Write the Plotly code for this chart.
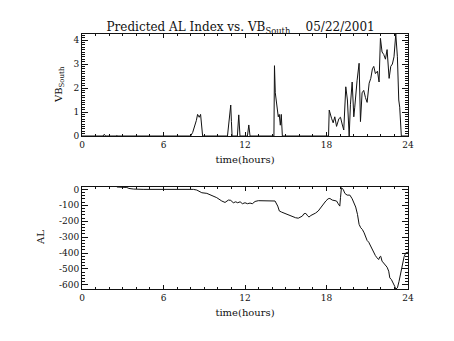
import plotly.graph_objects as go

# Southward IMF component (VB_South) – time in hours, value
vb_hours = [0.0, 1.55, 1.64, 1.73, 2.50, 2.57, 2.64,
            8.00, 8.15, 8.30, 8.42, 8.51, 8.63, 8.73, 8.88,
            10.71, 10.81, 10.88, 10.95, 11.00, 11.05,
            11.44, 11.54, 11.63,
            12.18, 12.28, 12.37,
            14.13, 14.17, 14.23, 14.30, 14.38, 14.45, 14.52, 14.60, 14.67, 14.75,
            18.15, 18.20, 18.37, 18.49, 18.61, 18.74, 18.91, 19.03, 19.15, 19.27,
            19.42, 19.54, 19.67, 19.76, 19.89, 20.01, 20.08, 20.16, 20.25, 20.40,
            20.50, 20.62, 20.74, 20.87, 20.99, 21.14, 21.26, 21.38, 21.48, 21.60,
            21.75, 21.87, 21.97, 22.09, 22.21, 22.34, 22.46, 22.61, 22.73, 22.85,
            22.97, 23.10, 23.22, 23.32, 23.39, 23.51, 24.0]
vb_south = [0.0, 0.0, 0.07, 0.0, 0.0, 0.02, 0.0,
            0.0, 0.15, 0.40, 0.65, 0.90, 0.78, 0.90, 0.0,
            0.0, 0.60, 0.85, 1.29, 0.60, 0.0,
            0.0, 0.88, 0.0,
            0.0, 0.46, 0.0,
            0.0, 2.93, 1.80, 1.40, 1.20, 0.80, 0.90, 0.45, 0.90, 0.0,
            0.0, 1.08, 0.74, 0.55, 0.80, 0.40, 0.72, 0.78, 0.50, 0.25,
            2.05, 1.50, 0.0, 1.30, 2.25, 0.80, 1.20, 1.90, 2.30, 3.03,
            0.60, 1.80, 1.90, 1.60, 1.40, 2.20, 2.40, 2.80, 2.90, 2.60,
            2.70, 2.25, 4.07, 3.50, 3.40, 3.20, 3.60, 2.40, 2.90, 3.00,
            3.30, 4.25, 3.30, 1.50, 1.20, 0.0, 0.0]

# Predicted AL index – time in hours, nT
al_hours = [2.57, 3.30, 3.45, 3.80, 4.50, 6.00, 7.60, 8.20, 8.45, 8.82,
            9.19, 9.55, 9.92, 10.29, 10.53, 10.78, 10.95, 11.14, 11.32, 11.46,
            11.64, 11.81, 12.00, 12.18, 12.37, 12.54, 12.74, 12.98, 13.35, 13.72,
            14.21, 14.41, 14.53, 14.70, 14.87, 15.06, 15.24, 15.38, 15.55, 15.72,
            15.92, 16.09, 16.22, 16.34, 16.48, 16.61, 16.71, 16.85, 17.02, 17.19,
            17.39, 17.56, 17.76, 17.95, 18.12, 18.25, 18.42, 18.57, 18.74, 18.86,
            18.98, 19.03, 19.10, 19.23, 19.35, 19.52, 19.72, 19.89, 20.03, 20.15,
            20.28, 20.40, 20.52, 20.64, 20.77, 20.89, 20.99, 21.11, 21.23, 21.35,
            21.48, 21.60, 21.72, 21.84, 21.92, 21.99, 22.09, 22.21, 22.34, 22.46,
            22.58, 22.66, 22.78, 22.90, 23.02, 23.10, 23.22, 23.34, 23.46, 23.59,
            23.71, 23.83, 24.00]
al_index = [15, 12, 6, 2, 0, 1, 0, 0, -4, -21,
            -25, -38, -52, -73, -82, -67, -69, -84, -78, -84,
            -78, -90, -84, -90, -86, -90, -76, -71, -71, -71,
            -73, -105, -136, -143, -149, -153, -162, -164, -174, -178,
            -181, -174, -168, -153, -151, -166, -174, -164, -157, -149,
            -136, -115, -94, -73, -59, -57, -67, -69, -73, -90,
            -105, -52, 10, 0, -25, -36, -36, -59, -84, -111,
            -157, -220, -241, -252, -273, -300, -321, -332, -353, -378,
            -399, -416, -430, -441, -424, -420, -451, -466, -479, -489,
            -514, -556, -567, -584, -609, -626, -619, -578, -525, -473,
            -424, -399, -395]

x_ticks = [0, 6, 12, 18, 24]
title_text = ("Predicted AL Index vs. VB<sub>South</sub>"
              "\u00a0\u00a0\u00a0\u00a005/22/2001")

FONT = "DejaVu Serif"
INK = "#111111"

fig = go.Figure()
fig.add_trace(go.Scatter(x=vb_hours, y=vb_south, mode="lines",
                         line=dict(color=INK, width=1), xaxis="x", yaxis="y",
                         showlegend=False, hoverinfo="skip"))
fig.add_trace(go.Scatter(x=al_hours, y=al_index, mode="lines",
                         line=dict(color=INK, width=1), xaxis="x2", yaxis="y2",
                         showlegend=False, hoverinfo="skip"))

common_x = dict(range=[0, 24], tickvals=x_ticks, ticks="inside", ticklen=4,
                tickwidth=1, tickcolor=INK, showline=True, linecolor=INK,
                linewidth=1, mirror="ticks", showgrid=False, zeroline=False,
                tickfont=dict(family=FONT, size=9, color=INK),
                minor=dict(dtick=1, ticks="inside", ticklen=2,
                           tickcolor=INK, tickwidth=1, showgrid=False),
                title=dict(text="time(hours)", standoff=7,
                           font=dict(family=FONT, size=10, color=INK)))
common_y = dict(ticks="inside", ticklen=6, tickwidth=1, tickcolor=INK,
                showline=True, linecolor=INK, linewidth=1, mirror="ticks",
                showgrid=False, zeroline=False,
                tickfont=dict(family=FONT, size=9, color=INK))

fig.update_layout(
    width=454, height=341,
    margin=dict(l=82, r=46, t=34, b=52),
    paper_bgcolor="white", plot_bgcolor="white",
    title=dict(text=title_text, x=0.53, xanchor="center", y=1 - 27 / 341,
               yanchor="middle",
               font=dict(family=FONT, size=12, color=INK)),
    xaxis=dict(domain=[0, 1], anchor="y", **common_x),
    yaxis=dict(domain=[0.6, 1], anchor="x",
               range=[0, max(vb_south)], tickvals=[0, 1, 2, 3, 4],
               minor=dict(dtick=0.1, ticks="inside", ticklen=3,
                          tickcolor=INK, tickwidth=1, showgrid=False),
               **common_y),
    xaxis2=dict(domain=[0, 1], anchor="y2", **common_x),
    yaxis2=dict(domain=[0, 0.4], anchor="x2",
                range=[min(al_index), max(al_index)],
                tickvals=[0, -100, -200, -300, -400, -500, -600],
                ticktext=["0", "-100", "-200", "-300", "-400", "-500", "-600"],
                minor=dict(dtick=20, ticks="inside", ticklen=3,
                           tickcolor=INK, tickwidth=1, showgrid=False),
                **common_y),
    annotations=[
        dict(text="VB<sub>South</sub>", xref="paper", yref="paper",
             x=0, y=0.8, xanchor="center", yanchor="middle", xshift=-22,
             textangle=-90, showarrow=False,
             font=dict(family=FONT, size=10, color=INK)),
        dict(text="AL", xref="paper", yref="paper",
             x=0, y=0.2, xanchor="center", yanchor="middle", xshift=-42,
             textangle=-90, showarrow=False,
             font=dict(family=FONT, size=10, color=INK)),
    ],
)

fig.write_html("out.html")
